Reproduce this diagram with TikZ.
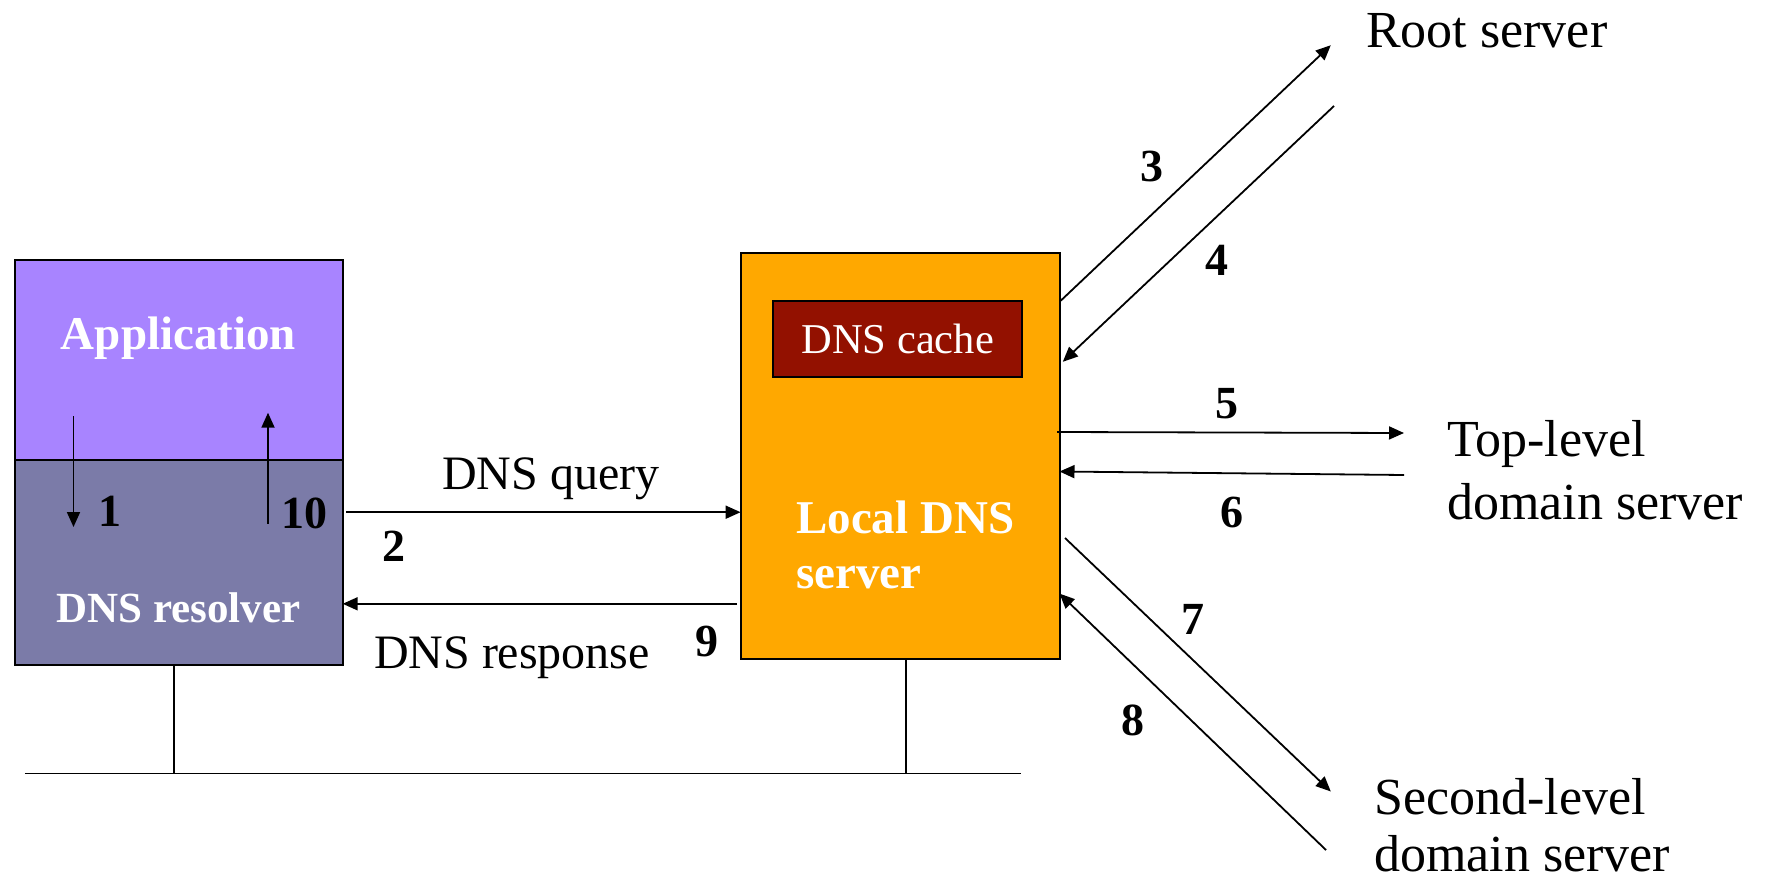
\documentclass[tikz,border=0pt]{standalone}
\usepackage{fontspec}
\setmainfont{Liberation Serif}
\usetikzlibrary{arrows.meta}
\definecolor{appc}{HTML}{A884FF}
\definecolor{resc}{HTML}{7B7BA8}
\definecolor{locc}{HTML}{FFA800}
\definecolor{cachec}{HTML}{931100}
\tikzset{
  box/.style={draw=black, line width=2pt, inner sep=0pt, outer sep=0pt},
  arr/.style={line width=1.8pt, -{Triangle[length=15pt,width=13pt]}},
  plain/.style={line width=1.8pt},
  num/.style={font=\fontsize{46}{50}\selectfont\bfseries, inner sep=0pt},
  lbl/.style={font=\fontsize{48}{52}\selectfont, inner sep=0pt},
  srv/.style={font=\fontsize{52}{57}\selectfont, inner sep=0pt, anchor=west, align=left},
  wtxt/.style={text=white, font=\fontsize{47}{55}\selectfont\bfseries, inner sep=0pt},
}
\begin{document}
\begin{tikzpicture}[x=1pt,y=-1pt]
\useasboundingbox (0,0) rectangle (1773,880);
% boxes
\node[box, fill=appc, minimum width=328pt, minimum height=200pt, anchor=north west] (app) at (14.7,260) {};
\node[box, fill=resc, minimum width=328pt, minimum height=205pt, anchor=north west] (res) at (14.7,460.2) {};
\node[box, fill=locc, minimum width=319pt, minimum height=406pt, anchor=north west] (loc) at (740.6,253.3) {};
\node[box, fill=cachec, minimum width=248.6pt, minimum height=75.7pt, anchor=north west] (cache) at (773.4,300.8) {};
% box texts
\node[wtxt] (apptxt) at (178.5,338) {Application};
\node[wtxt, font=\fontsize{43}{50}\selectfont\bfseries] (restxt) at (178.5,608) {DNS resolver};
\node[wtxt, anchor=west, align=left] (loctxt) at (796,545) {Local DNS\\server};
\node[text=white, font=\fontsize{42.5}{46}\selectfont, inner sep=0pt] (cachetxt) at (cache.center) {DNS cache};
% network
\coordinate (busL) at (24.9,773.4);
\coordinate (busR) at (1021,773.4);
\coordinate (resB) at (174,773.4);
\coordinate (locB) at (905.7,773.4);
\draw[plain] (busL) -- (busR);
\draw[plain] (res.south -| resB) -- (resB);
\draw[plain] (loc.south -| locB) -- (locB);
% arrows 1 and 10
\coordinate (a1s) at (73.5,416);
\coordinate (a1e) at (73.5,527);
\coordinate (a10s) at (268,523.5);
\coordinate (a10e) at (268,412.7);
\draw[arr] (a1s) -- (a1e);
\draw[arr] (a10s) -- (a10e);
\node[num] (n1) at (110,511) {1};
\node[num] (n10) at (304,513) {10};
% query / response
\coordinate (qs) at (346,512.2);
\draw[arr] (qs) -- (qs -| loc.west);
\coordinate (rs) at (737,603.8);
\draw[arr] (rs) -- (rs -| res.east);
\node[lbl] (qtxt) at (550.7,478.3) {DNS query};
\node[lbl] (rtxt) at (512,658) {DNS response};
\node[num] (n2) at (393.5,546) {2};
\node[num] (n9) at (706.7,641) {9};
% servers
\node[srv] (root) at (1366,30.5) {Root server};
\node[srv, font=\fontsize{52}{62.5}\selectfont] (tld) at (1447,470) {Top-level\\domain server};
\node[srv, font=\fontsize{52}{57}\selectfont] (sld) at (1374,825.5) {Second-level\\domain server};
% arrows 3..8
\coordinate (a3s) at (1060.6,300.8);
\coordinate (a3e) at (1330.8,45.2);
\coordinate (a4s) at (1334,106);
\coordinate (a4e) at (1062.8,361.8);
\coordinate (a5s) at (1057,432);
\coordinate (a5e) at (1404,433);
\coordinate (a6s) at (1404,475);
\coordinate (a6e) at (1059.5,471.5);
\coordinate (a7s) at (1065,538);
\coordinate (a7e) at (1330.8,791.5);
\coordinate (a8s) at (1326,850);
\coordinate (a8e) at (1059.5,593.6);
\draw[arr] (a3s) -- (a3e);
\draw[arr] (a4s) -- (a4e);
\draw[arr] (a5s) -- (a5e);
\draw[arr] (a6s) -- (a6e);
\draw[arr] (a7s) -- (a7e);
\draw[arr] (a8s) -- (a8e);
\node[num] (n3) at (1152,166) {3};
\node[num] (n4) at (1216.6,260) {4};
\node[num] (n5) at (1226.8,403.7) {5};
\node[num] (n6) at (1232,512) {6};
\node[num] (n7) at (1193,619.6) {7};
\node[num] (n8) at (1133,720) {8};
\end{tikzpicture}
\end{document}
